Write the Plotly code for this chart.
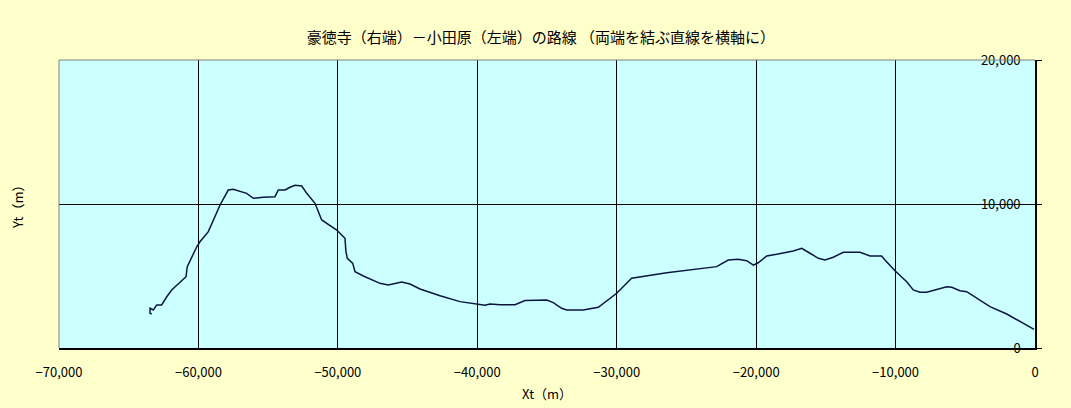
import plotly.graph_objects as go

# route coordinates, Gotokuji (right end, x=0) -> Odawara (left end)
xt = [-70, -2030, -3230, -4900, -5380, -5970, -6330, -7050, -7770, -8250,
      -8730, -9200, -10040, -10760, -11000, -11830, -12550, -13750, -14470, -15060,
      -15540, -16260, -16730, -17340, -17930, -18530, -19240, -19850, -20200, -20680,
      -21280, -22000, -22830, -26410, -28930, -30000, -31320, -32400, -33590, -33950,
      -34550, -35020, -36580, -37290, -38370, -39090, -39450, -40040, -41240, -42670,
      -44110, -44830, -45420, -46380, -46980, -48170, -48770, -48930, -49320, -49420,
      -49490, -50080, -51160, -51640, -52230, -52590, -53070, -53430, -53790, -54270,
      -54510, -55350, -56060, -56540, -57500, -57860, -58450, -59290, -59890, -60120,
      -60800, -60890, -61560, -61920, -62270, -62520, -62640, -62990, -63110, -63230,
      -63470, -63470, -63350]
yt = [1300, 2360, 2870, 3910, 3980, 4220, 4260, 4080, 3870, 3870,
      4030, 4600, 5370, 6110, 6390, 6390, 6650, 6650, 6300, 6110,
      6230, 6650, 6920, 6740, 6650, 6510, 6390, 5920, 5760, 6060,
      6160, 6110, 5650, 5230, 4840, 3800, 2830, 2640, 2640, 2760,
      3150, 3330, 3290, 3010, 3010, 3060, 2970, 3060, 3220, 3630,
      4100, 4440, 4580, 4380, 4490, 5000, 5300, 5880, 6230, 6690,
      7620, 8190, 8890, 10050, 10740, 11250, 11300, 11160, 10970, 10970,
      10510, 10470, 10400, 10740, 11020, 10970, 9930, 8080, 7380, 7030,
      5650, 4950, 4380, 4030, 3560, 3220, 2990, 2990, 2760, 2640,
      2760, 2410, 2360]

title_text = "豪徳寺（右端）－小田原（左端）の路線 （両端を結ぶ直線を横軸に）"
font_family = "Noto Sans CJK JP, Noto Sans, sans-serif"

fig = go.Figure()
fig.add_trace(go.Scatter(
    x=xt, y=yt, mode="lines",
    line=dict(color="#0b1540", width=1.5),
    showlegend=False,
))

fig.update_layout(
    width=1071, height=408,
    margin=dict(l=59, r=36, t=60, b=60),
    paper_bgcolor="#FFFFCC",
    plot_bgcolor="#CCFFFF",
    font=dict(family=font_family, size=13, color="black"),
    title=dict(text=title_text, x=0.505, xref="container", xanchor="center",
               y=1 - 38 / 408, yref="container", yanchor="middle",
               font=dict(size=15, color="black")),
    xaxis=dict(
        range=[-70000.01, 0.01], dtick=10000, tickformat=",", automargin=False,
        showgrid=True, gridcolor="black", gridwidth=1,
        zeroline=False, showline=True, linecolor="black", linewidth=1.5,
        ticks="", ticklabelstandoff=12, tickfont=dict(color="black"),
        title=dict(text="Xt（m）", standoff=10, font=dict(size=13)),
    ),
    yaxis=dict(
        range=[0, 20000], dtick=10000, tickformat=",", automargin=False,
        side="right", ticklabelposition="inside", ticklabeloverflow="allow",
        ticklabelstandoff=14, tickfont=dict(color="black"),
        showgrid=True, gridcolor="black", gridwidth=1,
        zeroline=False, showline=True, linecolor="black", linewidth=2,
        ticks="outside", ticklen=5, tickcolor="black",
    ),
    shapes=[
        dict(type="line", xref="paper", yref="paper", x0=0, x1=1, y0=1, y1=1,
             line=dict(color="#808080", width=1)),
        dict(type="line", xref="paper", yref="paper", x0=0, x1=0, y0=0, y1=1,
             line=dict(color="#808080", width=1)),
    ],
    annotations=[
        dict(text="Yt（m）", textangle=-90, xref="paper", yref="paper",
             x=-42 / 976, y=0.5, xanchor="center", yanchor="middle",
             showarrow=False, font=dict(size=13)),
    ],
)

# drop the default page margin so the figure sits at the window corner
fig.write_html("out.html", config={"displayModeBar": False},
               post_script="document.body.style.margin='0';")
